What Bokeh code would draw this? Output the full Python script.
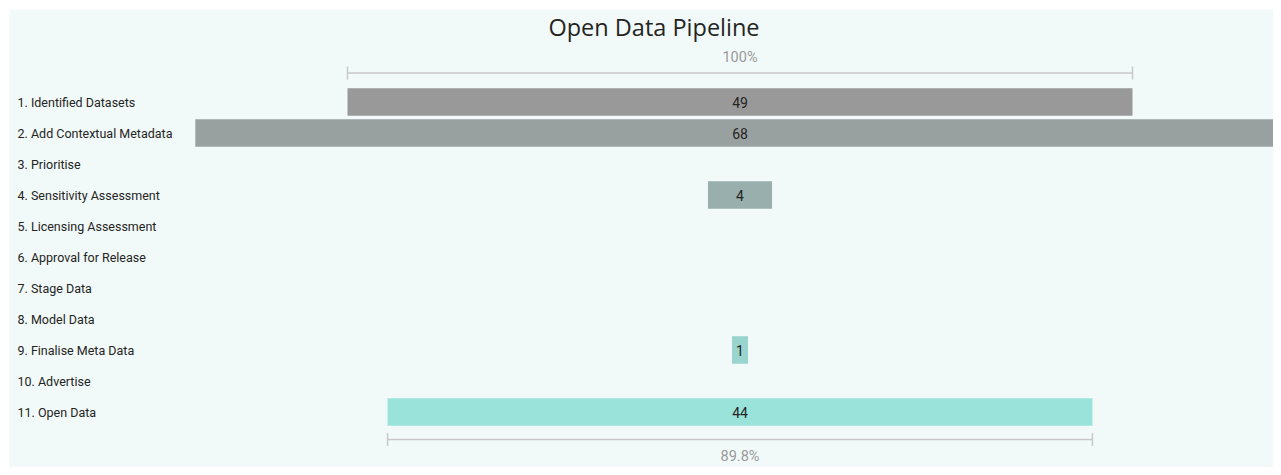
from bokeh.plotting import figure
from bokeh.models import ColumnDataSource, Range1d
from bokeh.core.properties import value
from bokeh.embed import file_html
from bokeh.resources import INLINE

stages = ["1. Identified Datasets", "2. Add Contextual Metadata", "3. Prioritise",
          "4. Sensitivity Assessment", "5. Licensing Assessment", "6. Approval for Release",
          "7. Stage Data", "8. Model Data", "9. Finalise Meta Data", "10. Advertise",
          "11. Open Data"]
counts = [49, 68, 0, 4, 0, 0, 0, 0, 1, 0, 44]

W, H = 1273, 467
BL, BT = 9, 9                 # white outer border (left / top)
FW, FH = W - BL, H - BT       # frame size in px
PX_PER_UNIT = 16.02
CENTER_PX = 730.5             # funnel axis, frame px
ROW_PX = 31
ROW0_PX = 92.5                # first row centre, frame px

x_start = -CENTER_PX / PX_PER_UNIT
x_end = (FW - CENTER_PX) / PX_PER_UNIT
y_top = -ROW0_PX / ROW_PX
y_bot = (FH - ROW0_PX) / ROW_PX


def fy(py):
    """frame pixel row -> data y"""
    return (py - ROW0_PX) / ROW_PX


BG = "#F1FAF9"
p = figure(width=W, height=H, output_backend="svg", toolbar_location=None,
           x_range=Range1d(x_start, x_end), y_range=Range1d(y_bot, y_top),
           min_border_left=BL, min_border_top=BT, min_border_right=0, min_border_bottom=0,
           outline_line_color=None,
           background_fill_color=BG, border_fill_color="white")
p.axis.visible = False
p.grid.visible = False


def lerp(a, b, t):
    return int(round(a + (b - a) * t))


c0 = (153, 153, 153)
c1 = (153, 227, 219)
n = len(stages)
colors = []
for i in range(n):
    t = i / (n - 1)
    colors.append("#%02x%02x%02x" % tuple(lerp(c0[k], c1[k], t) for k in range(3)))

idx = list(range(n))
src = ColumnDataSource(dict(
    y=idx, left=[-c / 2 for c in counts], right=[c / 2 for c in counts],
    color=colors, stage=stages, lbl=[str(c) if c > 0 else "" for c in counts],
    lx=[x_start] * n, cx=[0] * n))

p.hbar(y="y", left="left", right="right", height=27.5 / ROW_PX, color="color",
       line_color=None, source=src)

p.text(x="lx", y="y", text="stage", source=src, x_offset=8,
       text_font=value("Roboto"), text_font_size="12.5px", text_color="#252423",
       text_baseline="middle", text_align="left")

p.text(x="cx", y="y", text="lbl", source=src,
       text_font=value("Roboto"), text_font_size="14px", text_color="#252423",
       text_baseline="middle", text_align="center")

# brackets: first stage (100%) and last stage (conversion)
first, last = counts[0], counts[-1]
grey = "#C8C8C8"
tick = 6.5 / ROW_PX
for val, yy, ly, txt in [(first, fy(63.5), fy(48), "100%"),
                         (last, fy(430), fy(446.5), "%.1f%%" % (100 * last / first))]:
    p.segment(x0=[-val / 2], x1=[val / 2], y0=[yy], y1=[yy], line_color=grey, line_width=1.5)
    p.segment(x0=[-val / 2, val / 2], x1=[-val / 2, val / 2],
              y0=[yy - tick, yy - tick], y1=[yy + tick, yy + tick], line_color=grey, line_width=1.5)
    p.text(x=[0], y=[ly], text=[txt], text_font=value("Roboto"), text_font_size="14.5px",
           text_color="#999999", text_baseline="middle", text_align="center")

p.text(x=[(644.5 - CENTER_PX) / PX_PER_UNIT], y=[fy(17.5)],
       text=["Open Data Pipeline"], text_font=value("Open Sans"), text_font_size="23.5px",
       text_color="#252423", text_baseline="middle", text_align="center")

open("out.html", "w").write(file_html(p, INLINE))
